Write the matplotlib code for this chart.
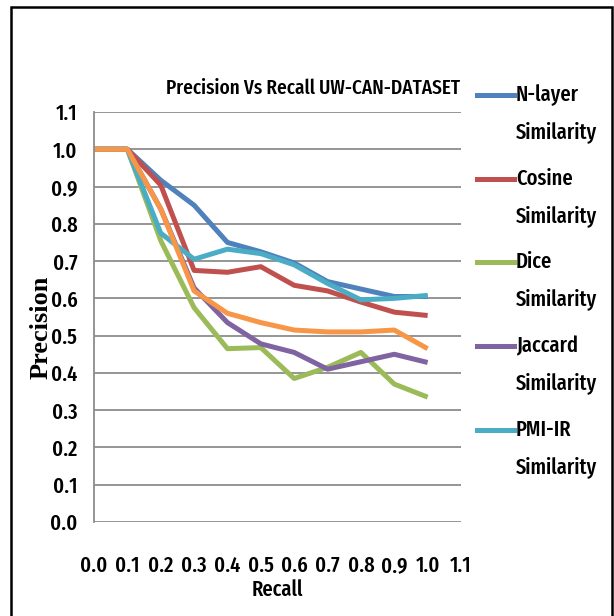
import numpy as np
import matplotlib
matplotlib.use("Agg")
import matplotlib.pyplot as plt
from matplotlib.lines import Line2D
from matplotlib.patches import Rectangle

# data
recall = [0.0, 0.1, 0.2, 0.3, 0.4, 0.5, 0.6, 0.7, 0.8, 0.9, 1.0]
nlayer = [1.0, 1.0, 0.917, 0.85, 0.75, 0.725, 0.695, 0.645, 0.625, 0.605, 0.605]
cosine = [1.0, 1.0, 0.904, 0.675, 0.67, 0.685, 0.635, 0.62, 0.59, 0.563, 0.554]
dice = [1.0, 1.0, 0.755, 0.575, 0.465, 0.468, 0.385, 0.415, 0.455, 0.37, 0.335]
jaccard = [1.0, 1.0, 0.84, 0.628, 0.535, 0.478, 0.455, 0.41, 0.43, 0.45, 0.428]
pmi_ir = [1.0, 1.0, 0.775, 0.705, 0.732, 0.72, 0.69, 0.64, 0.596, 0.60, 0.608]
other = [1.0, 1.0, 0.84, 0.62, 0.56, 0.535, 0.515, 0.51, 0.51, 0.515, 0.465]

series = [nlayer, cosine, dice, jaccard, pmi_ir, other]
names = ["N-layer", "Cosine", "Dice", "Jaccard", "PMI-IR", None]
colors = ["#4F81BD", "#C0504D", "#9BBB59", "#8064A2", "#4BACC6", "#F79646"]
ticks = [round(0.1 * i, 1) for i in range(12)]

plt.rcParams['font.family'] = ["Fira Sans Extra Condensed", "Carlito", "DejaVu Sans"]
plt.rcParams['font.weight'] = 500
fs = 16

W, H = 614, 616
fig = plt.figure(figsize=(W / 100, H / 100), dpi=100)
ax = fig.add_axes([94 / W, 1 - 522 / H, (461 - 94) / W, (522 - 112) / H])

for vals, c in zip(series, colors):
    ax.plot(recall, vals, color=c, lw=3.6, solid_joinstyle='round', solid_capstyle='butt')

ax.set_xlim(0, 1.1)
ax.set_ylim(0, 1.1)
ax.set_xticks(ticks)
ax.set_yticks(ticks)
ax.set_xticklabels(["%.1f" % t for t in ticks])
ax.set_yticklabels(["%.1f" % t for t in ticks])
ax.tick_params(axis='x', length=0, pad=24, labelsize=fs)
ax.tick_params(axis='y', length=0, pad=12, labelsize=fs)
ax.yaxis.grid(True, color='#8c8c8c', lw=1.3)
ax.set_axisbelow(True)
for s in ['top', 'right', 'bottom']:
    ax.spines[s].set_visible(False)
ax.spines['left'].set_color('#8c8c8c')
ax.spines['left'].set_linewidth(1.3)

fig.text(313 / W, 1 - 88 / H, "Precision Vs Recall UW-CAN-DATASET", ha='center', va='center', fontsize=15)
fig.text(277 / W, 1 - 590 / H, "Recall", ha='center', va='center', fontsize=fs)
fig.text(41 / W, 1 - 327 / H, "Precision", ha='center', va='center', rotation=90,
         fontsize=19, fontweight='bold', family=['Liberation Serif', 'DejaVu Serif'])

# legend (first five series only)
leg_y = [95, 179, 262, 346, 430]
for name, c, y in zip(names, colors, leg_y):
    if name is None:
        continue
    yf = 1 - y / H
    fig.add_artist(Line2D([477 / W, 514 / W], [yf, yf], color=c, lw=3.6))
    fig.text(516 / W, yf, name, ha='left', va='center', fontsize=fs)
    fig.text(516 / W, 1 - (y + 37) / H, "Similarity", ha='left', va='center', fontsize=fs)

fig.add_artist(Rectangle((11 / W, -0.01), (612 - 11) / W, 1.01 - 7 / H, transform=fig.transFigure,
                         fill=False, ec='black', lw=1.8))

fig.savefig("out.png", dpi=100)
